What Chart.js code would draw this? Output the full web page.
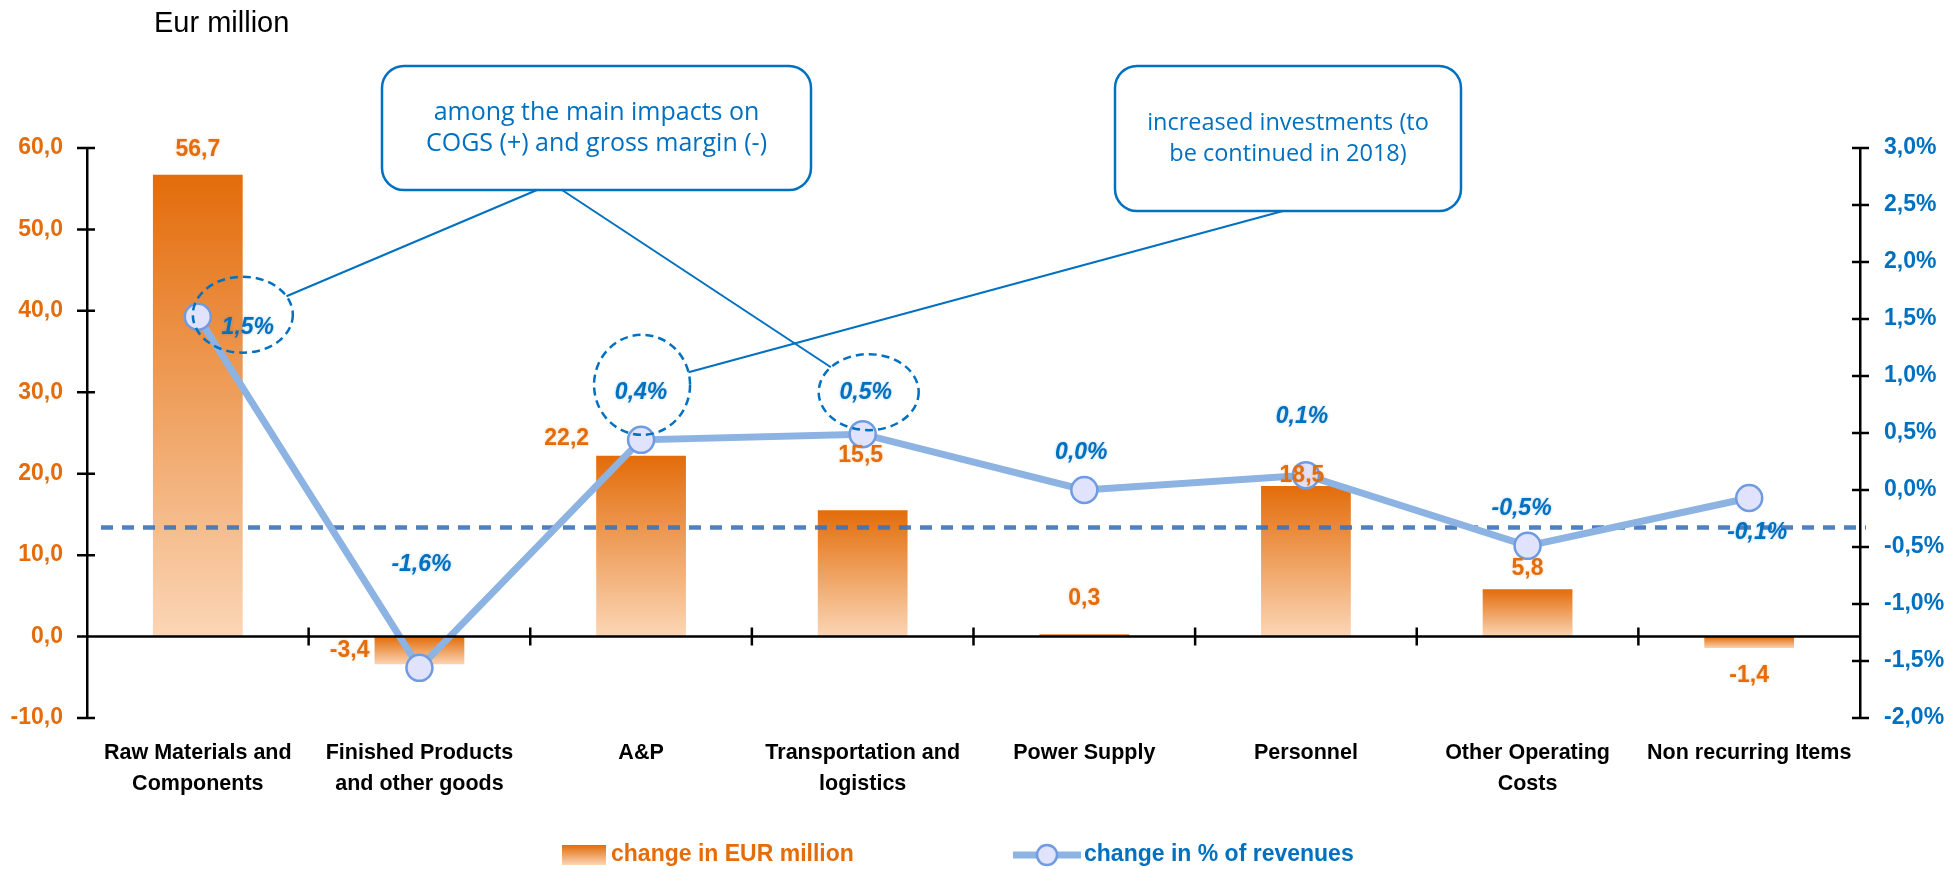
<!DOCTYPE html>
<html>
<head>
<meta charset="utf-8">
<script src="https://cdn.jsdelivr.net/npm/chart.js@4.4.0/dist/chart.umd.min.js"></script>
<style>
  html, body { margin: 0; padding: 0; background: #fff; }
  #wrap { width: 1957px; height: 869px; position: relative; }
</style>
</head>
<body>
<div id="wrap"><canvas id="chart"></canvas></div>
<script>
// data
const categories = [
  ["Raw Materials and", "Components"],
  ["Finished Products", "and other goods"],
  "A&P",
  ["Transportation and", "logistics"],
  "Power Supply",
  "Personnel",
  ["Other Operating", "Costs"],
  "Non recurring Items"
];
const changeEur = [56.7, -3.4, 22.2, 15.5, 0.3, 18.5, 5.8, -1.4];
const changePct = [1.52, -1.56, 0.44, 0.49, 0.0, 0.13, -0.49, -0.07];
const avgPct = -0.33;
const seriesNames = ["change in EUR million", "change in % of revenues"];
const noteTexts = [
  ["among the main impacts on", "COGS (+) and gross margin (-)"],
  ["increased investments (to", "be continued in 2018)"]
];

// label placement (offsets in px from bar end / point)
const barLabelPos = [[0, -25, "center"], [-50, -14, "right"], [-52, -17, "right"], [-2, -55, "center"],
                     [0, -35, "center"], [-4, -10, "center"], [0, -21, "center"], [0, 28, "center"]];
const pctLabelPos = [[50, 11], [2, -103], [0, -47], [3, -41], [-3, -37], [-4, -59], [-6, -37], [8, 35]];

const ORANGE = "#e46c0a";
const BLUE = "#0070c0";
const FONT = "'Liberation Sans', Arial, sans-serif";

const fmt = (v, d) => v.toFixed(d).replace(".", ",");

function barFill(ctx) {
  const chart = ctx.chart;
  if (!chart.chartArea || ctx.type !== "data") return ORANGE;
  const v = ctx.raw;
  const y = chart.scales.y;
  const top = y.getPixelForValue(Math.max(v, 0));
  const bottom = y.getPixelForValue(Math.min(v, 0));
  const g = chart.ctx.createLinearGradient(0, top, 0, bottom + 0.5);
  g.addColorStop(0, "#e36c0a");
  g.addColorStop(1, "#fbd6b6");
  return g;
}

// axes decorations, reference line, labels, callouts, legend
const decor = {
  id: "decor",
  afterDatasetDraw(chart, args) {
    if (args.index !== 0) return;
    const c = chart.ctx, a = chart.chartArea;
    const yv = chart.scales.y2.getPixelForValue(avgPct);
    c.save();
    c.strokeStyle = "rgba(62,114,184,0.9)";
    c.lineWidth = 4.5;
    c.setLineDash([12, 9]);
    c.beginPath();
    c.moveTo(a.left + 14, yv);
    c.lineTo(a.right + 6, yv);
    c.stroke();
    c.restore();
  },
  afterDatasetsDraw(chart) {
    const c = chart.ctx, a = chart.chartArea;
    const x = chart.scales.x, y = chart.scales.y, y2 = chart.scales.y2;
    c.save();
    // zero line + category ticks
    const zero = y.getPixelForValue(0);
    c.strokeStyle = "#000";
    c.lineWidth = 2.5;
    c.beginPath();
    c.moveTo(a.left, zero);
    c.lineTo(a.right, zero);
    for (let i = 1; i < categories.length; i++) {
      const bx = (x.getPixelForValue(i - 1) + x.getPixelForValue(i)) / 2;
      c.moveTo(bx, zero - 9);
      c.lineTo(bx, zero + 9);
    }
    y.ticks.forEach(t => {
      const p = y.getPixelForValue(t.value);
      c.moveTo(a.left - 10, p);
      c.lineTo(a.left + 8, p);
    });
    y2.ticks.forEach(t => {
      const p = y2.getPixelForValue(t.value);
      c.moveTo(a.right - 8, p);
      c.lineTo(a.right + 9, p);
    });
    c.stroke();

    // bar value labels
    const bars = chart.getDatasetMeta(0).data;
    c.font = "bold 23px " + FONT;
    c.fillStyle = ORANGE;
    c.textBaseline = "middle";
    c.shadowColor = "rgba(228,108,10,0.35)";
    c.shadowBlur = 3;
    bars.forEach((bar, i) => {
      const v = changeEur[i];
      const end = v >= 0 ? Math.min(bar.y, bar.base) : Math.max(bar.y, bar.base);
      const [dx, dy, al] = barLabelPos[i];
      c.textAlign = al;
      c.fillText(fmt(v, 1), bar.x + dx, end + dy);
    });

    // percent labels
    const pts = chart.getDatasetMeta(1).data;
    c.font = "italic bold 23px " + FONT;
    c.fillStyle = BLUE;
    c.textAlign = "center";
    c.shadowColor = "rgba(0,112,192,0.35)";
    pts.forEach((p, i) => {
      const [dx, dy] = pctLabelPos[i];
      c.fillText(fmt(changePct[i], 1) + "%", p.x + dx, p.y + dy);
    });
    c.shadowColor = "transparent";
    c.shadowBlur = 0;

    // callouts
    const boxes = [
      { x: 382, y: 66, w: 429, h: 124, fs: 25 },
      { x: 1115, y: 66, w: 346, h: 145, fs: 23.5 }
    ];
    const rings = [
      { pt: 0, dx: 45, dy: -2, rx: 50, ry: 38, box: 0, ax: 537 },
      { pt: 2, dx: 1, dy: -55, rx: 48, ry: 50, box: 1, ax: 1283 },
      { pt: 3, dx: 6, dy: -42, rx: 50, ry: 38, box: 0, ax: 562 }
    ];
    c.strokeStyle = BLUE;
    rings.forEach(r => {
      const p = pts[r.pt];
      const cx = p.x + r.dx, cy = p.y + r.dy;
      c.lineWidth = 2.5;
      c.setLineDash([8, 5]);
      c.beginPath();
      c.ellipse(cx, cy, r.rx, r.ry, 0, 0, Math.PI * 2);
      c.stroke();
      const b = boxes[r.box];
      const ay = b.y + b.h;
      const vx = r.ax - cx, vy = ay - cy;
      const t = 1 / Math.sqrt((vx / r.rx) ** 2 + (vy / r.ry) ** 2);
      c.setLineDash([]);
      c.lineWidth = 2;
      c.beginPath();
      c.moveTo(cx + vx * t, cy + vy * t);
      c.lineTo(r.ax, ay);
      c.stroke();
    });
    c.setLineDash([]);
    boxes.forEach((b, i) => {
      c.fillStyle = "#fff";
      c.lineWidth = 2.5;
      c.beginPath();
      c.roundRect(b.x, b.y, b.w, b.h, 22);
      c.fill();
      c.stroke();
      c.fillStyle = BLUE;
      c.font = b.fs + "px 'Open Sans', sans-serif";
      c.textAlign = "center";
      const mid = b.y + b.h / 2;
      noteTexts[i].forEach((line, k) => c.fillText(line, b.x + b.w / 2, mid + (k - 0.5) * 31));
    });

    // title
    c.fillStyle = "#000";
    c.textAlign = "left";
    c.font = "29px 'Liberation Sans', Arial, sans-serif";
    c.fillText("Eur million", 154, 24);

    // legend
    const ly = 855;
    const g = c.createLinearGradient(0, ly - 10, 0, ly + 10);
    g.addColorStop(0, "#e36c0a");
    g.addColorStop(1, "#fbd6b6");
    c.fillStyle = g;
    c.fillRect(562, ly - 10, 44, 20);
    c.font = "bold 23px " + FONT;
    c.fillStyle = ORANGE;
    c.fillText(seriesNames[0], 611, ly);
    c.strokeStyle = "#8db3e2";
    c.lineWidth = 7;
    c.beginPath();
    c.moveTo(1013, ly);
    c.lineTo(1081, ly);
    c.stroke();
    c.beginPath();
    c.arc(1047, ly, 10, 0, Math.PI * 2);
    c.fillStyle = "#e0e3fb";
    c.fill();
    c.strokeStyle = "#6f9be0";
    c.lineWidth = 2.5;
    c.stroke();
    c.fillStyle = BLUE;
    c.fillText(seriesNames[1], 1084, ly);
    c.restore();
  }
};

new Chart(document.getElementById("chart"), {
  type: "bar",
  plugins: [decor],
  data: {
    labels: categories,
    datasets: [
      {
        type: "bar",
        label: seriesNames[0],
        data: changeEur,
        yAxisID: "y",
        backgroundColor: barFill,
        barPercentage: 0.405,
        categoryPercentage: 1,
        order: 2
      },
      {
        type: "line",
        label: seriesNames[1],
        data: changePct,
        yAxisID: "y2",
        borderColor: "#8db3e2",
        borderWidth: 7,
        pointRadius: 13,
        pointBorderWidth: 2.5,
        pointBackgroundColor: "#e0e3fb",
        pointBorderColor: "#6f9be0",
        tension: 0,
        order: 1
      }
    ]
  },
  options: {
    responsive: true,
    maintainAspectRatio: false,
    animation: false,
    layout: { padding: { top: 148, left: 0, right: 0, bottom: 0 } },
    plugins: {
      legend: { display: false },
      tooltip: { enabled: false }
    },
    scales: {
      x: {
        grid: { display: false },
        border: { display: false },
        ticks: {
          color: "#000",
          font: { family: FONT, size: 21.5, weight: "bold", lineHeight: 1.44 },
          padding: 12,
          maxRotation: 0,
          autoSkip: false
        },
        afterFit(s) { s.height = 151; }
      },
      y: {
        position: "left",
        min: -10,
        max: 60,
        ticks: {
          stepSize: 10,
          color: ORANGE,
          font: { family: FONT, size: 23, weight: "bold" },
          padding: 24,
          callback: v => fmt(v, 1)
        },
        grid: { drawOnChartArea: false, drawTicks: false },
        border: { display: true, color: "#000", width: 2.5 },
        afterFit(s) { s.width = 87; }
      },
      y2: {
        position: "right",
        min: -2,
        max: 3,
        ticks: {
          stepSize: 0.5,
          color: BLUE,
          font: { family: FONT, size: 23, weight: "bold" },
          padding: 24,
          callback: v => fmt(v, 1) + "%"
        },
        grid: { drawOnChartArea: false, drawTicks: false },
        border: { display: true, color: "#000", width: 2.5 },
        afterFit(s) { s.width = 97; }
      }
    }
  }
});
</script>
</body>
</html>
